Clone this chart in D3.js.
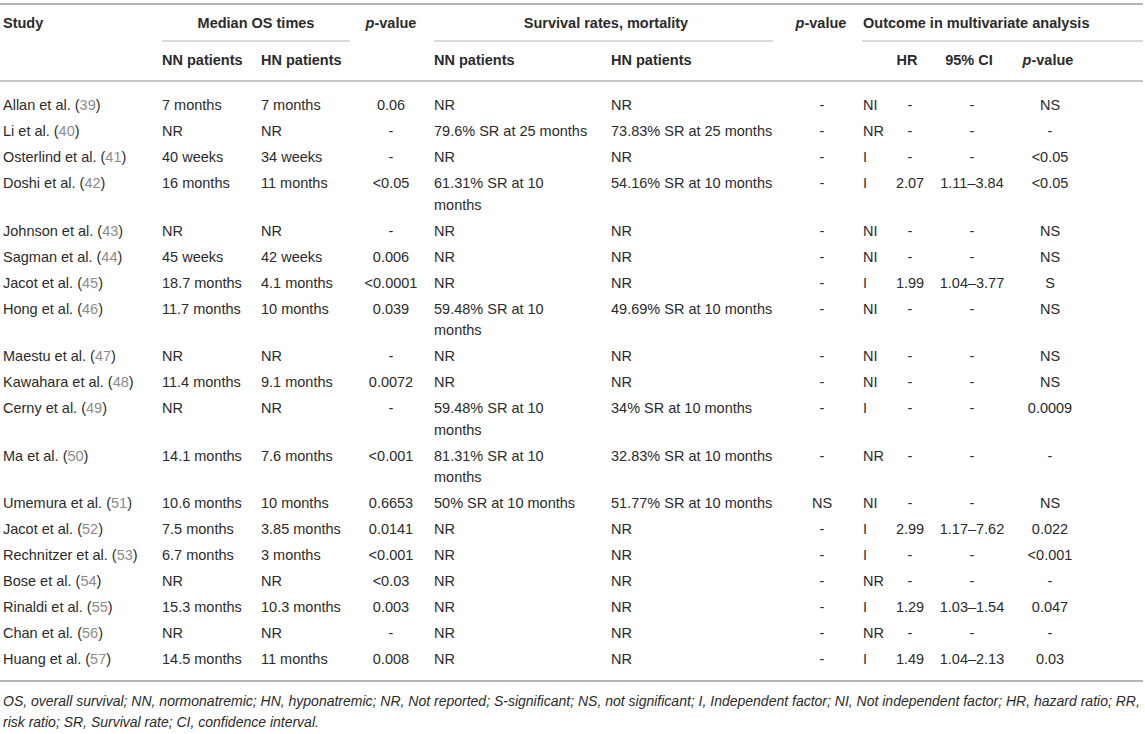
<!DOCTYPE html>
<html>
<head>
<meta charset="utf-8">
<script src="https://cdn.jsdelivr.net/npm/d3@7"></script>
<style>
  body { margin: 0; background: #fff; }
  text { font-family: "Liberation Sans", Arial, sans-serif; }
</style>
</head>
<body>
<script>
// Table data, one array per column.
const studies = ["Allan et al.", "Li et al.", "Osterlind et al.", "Doshi et al.", "Johnson et al.",
  "Sagman et al.", "Jacot et al.", "Hong et al.", "Maestu et al.", "Kawahara et al.", "Cerny et al.",
  "Ma et al.", "Umemura et al.", "Jacot et al.", "Rechnitzer et al.", "Bose et al.", "Rinaldi et al.",
  "Chan et al.", "Huang et al."];
const refs = [39, 40, 41, 42, 43, 44, 45, 46, 47, 48, 49, 50, 51, 52, 53, 54, 55, 56, 57];
const nnOS = ["7 months", "NR", "40 weeks", "16 months", "NR", "45 weeks", "18.7 months", "11.7 months",
  "NR", "11.4 months", "NR", "14.1 months", "10.6 months", "7.5 months", "6.7 months", "NR",
  "15.3 months", "NR", "14.5 months"];
const hnOS = ["7 months", "NR", "34 weeks", "11 months", "NR", "42 weeks", "4.1 months", "10 months",
  "NR", "9.1 months", "NR", "7.6 months", "10 months", "3.85 months", "3 months", "NR",
  "10.3 months", "NR", "11 months"];
const osP = ["0.06", "-", "-", "<0.05", "-", "0.006", "<0.0001", "0.039", "-", "0.0072", "-",
  "<0.001", "0.6653", "0.0141", "<0.001", "<0.03", "0.003", "-", "0.008"];
const nnSR = ["NR", "79.6% SR at 25 months", "NR", "61.31% SR at 10 months", "NR", "NR", "NR",
  "59.48% SR at 10 months", "NR", "NR", "59.48% SR at 10 months", "81.31% SR at 10 months",
  "50% SR at 10 months", "NR", "NR", "NR", "NR", "NR", "NR"];
const hnSR = ["NR", "73.83% SR at 25 months", "NR", "54.16% SR at 10 months", "NR", "NR", "NR",
  "49.69% SR at 10 months", "NR", "NR", "34% SR at 10 months", "32.83% SR at 10 months",
  "51.77% SR at 10 months", "NR", "NR", "NR", "NR", "NR", "NR"];
const srP = ["-", "-", "-", "-", "-", "-", "-", "-", "-", "-", "-", "-", "NS", "-", "-", "-", "-", "-", "-"];
const factor = ["NI", "NR", "I", "I", "NI", "NI", "I", "NI", "NI", "NI", "I", "NR", "NI", "I", "I",
  "NR", "I", "NR", "I"];
const hr = ["-", "-", "-", "2.07", "-", "-", "1.99", "-", "-", "-", "-", "-", "-", "2.99", "-", "-",
  "1.29", "-", "1.49"];
const ci = ["-", "-", "-", "1.11–3.84", "-", "-", "1.04–3.77", "-", "-", "-", "-", "-", "-",
  "1.17–7.62", "-", "-", "1.03–1.54", "-", "1.04–2.13"];
const mvP = ["NS", "-", "<0.05", "<0.05", "NS", "NS", "S", "NS", "NS", "NS", "0.0009", "-", "NS",
  "0.022", "<0.001", "-", "0.047", "-", "0.03"];
const footnote = [
  "OS, overall survival; NN, normonatremic; HN, hyponatremic; NR, Not reported; S-significant; NS, not significant; I, Independent factor; NI, Not independent factor; HR, hazard ratio; RR,",
  "risk ratio; SR, Survival rate; CI, confidence interval."
];

const width = 1145;
const height = 734;
const fontSize = 14.5;
const textColor = "#2b2b2b";
const ruleColor = "#b4b4b4";
const lineStep = 21.6;

const svg = d3.select("body").append("svg")
    .attr("width", width)
    .attr("height", height);

// Column positions and alignment.
const columns = [
  { key: "study", values: studies, anchor: "start" },
  { key: "nnOS", values: nnOS, anchor: "start" },
  { key: "hnOS", values: hnOS, anchor: "start" },
  { key: "osP", values: osP, anchor: "middle" },
  { key: "nnSR", values: nnSR, anchor: "start", wrap: 157 },
  { key: "hnSR", values: hnSR, anchor: "start" },
  { key: "srP", values: srP, anchor: "middle" },
  { key: "factor", values: factor, anchor: "start" },
  { key: "hr", values: hr, anchor: "middle" },
  { key: "ci", values: ci, anchor: "middle" },
  { key: "mvP", values: mvP, anchor: "middle" }
];
const x = d3.scaleOrdinal()
    .domain(columns.map(c => c.key))
    .range([3, 162, 261, 391, 434, 611, 822, 863, 910, 972, 1050]);

// Rules.
const rules = [
  { x1: 0, x2: 1143, y: 4, w: 2 },
  { x1: 162, x2: 350, y: 41, w: 1 },
  { x1: 434, x2: 773, y: 41, w: 1 },
  { x1: 862, x2: 1143, y: 41, w: 1 },
  { x1: 0, x2: 1143, y: 81, w: 1.5 },
  { x1: 0, x2: 1143, y: 681, w: 2 }
];
svg.selectAll("line.rule")
  .data(rules)
  .join("line")
    .attr("class", "rule")
    .attr("x1", d => d.x1).attr("x2", d => d.x2)
    .attr("y1", d => d.y).attr("y2", d => d.y)
    .attr("stroke", ruleColor)
    .attr("stroke-width", d => d.w);

// Header cells.
const headers = [
  { text: "Study", x: 3, y: 23, anchor: "start" },
  { text: "Median OS times", x: 256, y: 23, anchor: "middle" },
  { text: "-value", italic: "p", x: 391, y: 23, anchor: "middle" },
  { text: "Survival rates, mortality", x: 606, y: 23, anchor: "middle" },
  { text: "-value", italic: "p", x: 821, y: 23, anchor: "middle" },
  { text: "Outcome in multivariate analysis", x: 863, y: 23, anchor: "start" },
  { text: "NN patients", x: 162, y: 60, anchor: "start" },
  { text: "HN patients", x: 261, y: 60, anchor: "start" },
  { text: "NN patients", x: 434, y: 60, anchor: "start" },
  { text: "HN patients", x: 611, y: 60, anchor: "start" },
  { text: "HR", x: 907, y: 60, anchor: "middle" },
  { text: "95% CI", x: 969, y: 60, anchor: "middle" },
  { text: "-value", italic: "p", x: 1048, y: 60, anchor: "middle" }
];
const head = svg.selectAll("text.head")
  .data(headers)
  .join("text")
    .attr("class", "head")
    .attr("x", d => d.x)
    .attr("y", d => d.y)
    .attr("dy", "0.35em")
    .attr("text-anchor", d => d.anchor)
    .attr("font-size", fontSize)
    .attr("font-weight", "bold")
    .attr("fill", textColor);
head.each(function(d) {
  const t = d3.select(this);
  if (d.italic) t.append("tspan").attr("font-style", "italic").text(d.italic);
  t.append("tspan").text(d.text);
});

// Body rows.
const rowIndex = d3.range(studies.length);
const rowG = svg.append("g").selectAll("g.row")
  .data(rowIndex)
  .join("g")
    .attr("class", "row");

function wrapText(sel, text, maxWidth, xPos) {
  const words = text.split(" ");
  let line = [];
  let tspan = sel.append("tspan").attr("x", xPos).attr("dy", "0.35em");
  let count = 1;
  words.forEach(w => {
    line.push(w);
    tspan.text(line.join(" "));
    if (line.length > 1 && tspan.node().getComputedTextLength() > maxWidth) {
      line.pop();
      tspan.text(line.join(" "));
      line = [w];
      tspan = sel.append("tspan").attr("x", xPos).attr("dy", lineStep).text(w);
      count++;
    }
  });
  return count;
}

const lineCounts = rowIndex.map(() => 1);

columns.forEach(col => {
  rowG.append("text")
      .attr("x", x(col.key))
      .attr("text-anchor", col.anchor)
      .attr("font-size", fontSize)
      .attr("fill", textColor)
      .each(function(i) {
        const t = d3.select(this);
        if (col.key === "study") {
          t.attr("dy", "0.35em");
          t.append("tspan").text(studies[i] + " (");
          t.append("tspan").attr("fill", "#8c8c8c").text(refs[i]);
          t.append("tspan").text(")");
        } else if (col.wrap) {
          const n = wrapText(t, col.values[i], col.wrap, x(col.key));
          lineCounts[i] = Math.max(lineCounts[i], n);
        } else {
          t.attr("dy", "0.35em").text(col.values[i]);
        }
      });
});

// Row positions: fixed step per row plus extra space for wrapped lines.
const rowStep = d3.scaleLinear()
    .domain([0, studies.length - 1])
    .range([105, 659 - 4 * lineStep]);
let extra = 0;
const rowY = rowIndex.map(i => {
  const y = rowStep(i) + extra * lineStep;
  extra += lineCounts[i] - 1;
  return y;
});
rowG.attr("transform", i => `translate(0,${rowY[i]})`);

// Footnote.
svg.selectAll("text.note")
  .data(footnote)
  .join("text")
    .attr("class", "note")
    .attr("x", 3)
    .attr("y", (d, i) => 701 + i * 21)
    .attr("dy", "0.35em")
    .attr("font-size", 14)
    .attr("font-style", "italic")
    .attr("fill", textColor)
    .text(d => d);
</script>
</body>
</html>
